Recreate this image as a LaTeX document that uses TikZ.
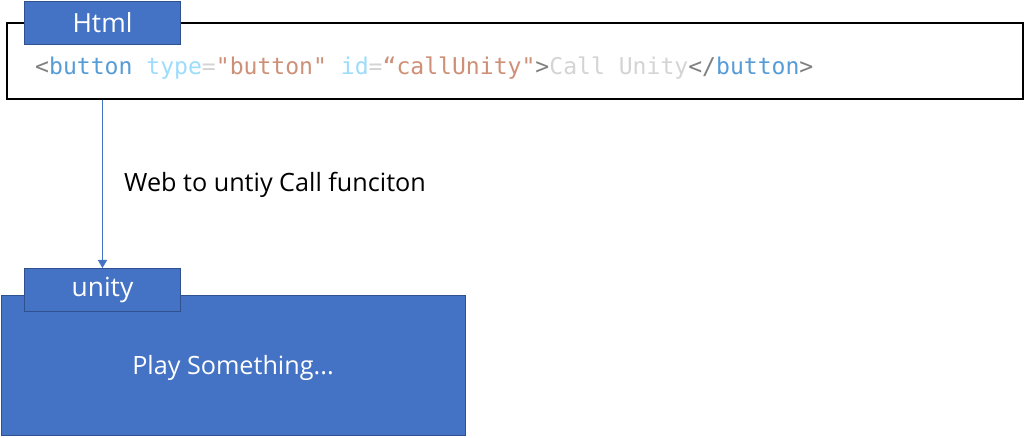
\documentclass[tikz,border=0pt]{standalone}
\usepackage{fontspec}
\setmainfont{Open Sans}
\setmonofont{DejaVu Sans Mono}
\usetikzlibrary{arrows.meta,positioning}

% colours of the slide
\definecolor{accent}{HTML}{4472C4}
\definecolor{accentdark}{HTML}{2F528F}
\definecolor{tagblue}{HTML}{569CD6}
\definecolor{attrblue}{HTML}{9CDCFE}
\definecolor{strorange}{HTML}{CE9178}
\definecolor{punctgray}{HTML}{808080}
\definecolor{textgray}{HTML}{D4D4D4}

\tikzset{
  tabbox/.style={draw=accentdark, fill=accent, line width=0.8pt, text=white,
    minimum width=4.68cm, minimum height=1.29cm, inner sep=0pt, font=\fontsize{22.5}{26}\selectfont},
  codebox/.style={draw=black, line width=1.5pt, fill=white,
    minimum width=30.48cm, minimum height=2.28cm, inner sep=0pt},
  bigbox/.style={draw=accentdark, fill=accent, line width=0.8pt,
    minimum width=13.92cm, minimum height=4.2cm, inner sep=0pt},
  bodytext/.style={font=\fontsize{21.5}{26}\selectfont, inner sep=0pt},
  callarrow/.style={draw=accent, line width=0.7pt, -{Triangle[width=8pt,length=7pt]}}
}

\begin{document}
\begin{tikzpicture}[x=0.03cm, y=-0.03cm]
  \useasboundingbox (0,0) rectangle (1024,437);

  % Html part
  \node[codebox, anchor=north west] (code) at (6,22) {};
  \node[tabbox, anchor=north west] (html) at (24,1) {Html};
  \node[anchor=base west, inner sep=0pt, font=\ttfamily\fontsize{19.7}{22}\selectfont] (snippet) at (35,74)
    {\textcolor{punctgray}{<}\textcolor{tagblue}{button} \textcolor{attrblue}{type}\textcolor{textgray}{=}\textcolor{strorange}{"button"} \textcolor{attrblue}{id}\textcolor{textgray}{=}\textcolor{strorange}{“callUnity"}\textcolor{punctgray}{>}\textcolor{textgray}{Call Unity}\textcolor{punctgray}{</}\textcolor{tagblue}{button}\textcolor{punctgray}{>}};

  % unity part
  \node[bigbox, anchor=north west] (player) at (1,295) {};
  \node[tabbox, anchor=north west] (unity) at (24,268) {unity};
  \node[bodytext, text=white] (play) at (233,368) {Play Something...};

  % call
  \draw[callarrow] (html.south |- code.south) -- (unity.north);
  \node[bodytext, anchor=west] (calllabel) at (124,185) {Web to untiy Call funciton};
\end{tikzpicture}
\end{document}
